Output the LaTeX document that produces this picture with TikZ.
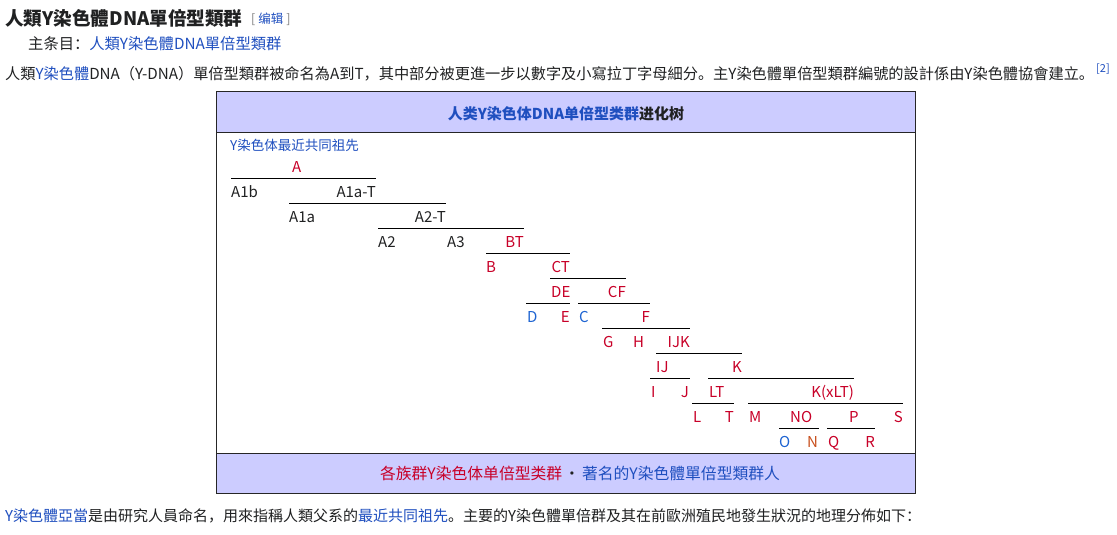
\documentclass[tikz,border=0pt]{standalone}
\usepackage{fontspec}
\setmainfont{Noto Sans CJK SC}
\definecolor{dark}{HTML}{202122}
\definecolor{link}{HTML}{1F4FBF}
\definecolor{tred}{HTML}{C80028}
\definecolor{tblue}{HTML}{1E64D2}
\definecolor{torange}{HTML}{C8501E}
\definecolor{band}{HTML}{CCCCFF}
\begin{document}
\begin{tikzpicture}[x=1pt,y=-1pt,
  txt/.style={inner sep=0pt, anchor=base west, font=\fontsize{15.3}{18}\selectfont, text=dark},
  lab/.style={inner sep=0pt, font=\fontsize{15}{18}\selectfont},
  lw/.style={lab, anchor=base west},
  le/.style={lab, anchor=base east},
  br/.style={draw=black, line width=1pt},
  boxline/.style={draw=black!85, line width=1pt}]
\fill[white] (0,0) rectangle (1117,535);
\useasboundingbox (0,0) rectangle (1117,535);

% page text
\node[txt, font=\fontsize{18.6}{20}\selectfont\bfseries] (title) at (5,26) {人類Y染色體DNA單倍型類群};
\node[txt, font=\fontsize{12.5}{14}\selectfont, text=gray] (edit) at (251,24) {[\hspace{3pt}\textcolor{link}{编辑}\hspace{3pt}]};
\node[txt] (main) at (28,50) {主条目：\textcolor{link}{人類Y染色體DNA單倍型類群}};
\node[txt, font=\fontsize{15.2}{18}\selectfont] (intro) at (5,80) {人類\textcolor{link}{Y染色體}DNA（Y-DNA）單倍型類群被命名為A到T，其中部分被更進一步以數字及小寫拉丁字母細分。主Y染色體單倍型類群編號的設計係由Y染色體協會建立。};
\node[txt, font=\fontsize{11}{13}\selectfont, text=link] (ref) at (1096,73) {[2]};
\node[txt, font=\fontsize{15}{18}\selectfont] (outro) at (5,521) {\textcolor{link}{Y染色體亞當}是由研究人員命名，用來指稱人類父系的\textcolor{link}{最近共同祖先}。主要的Y染色體單倍群及其在前歐洲殖民地發生狀況的地理分佈如下：};

% table frame
\fill[band] (216,92) rectangle (915,132);
\fill[band] (216,453) rectangle (915,493);
\draw[boxline] (216,92) rectangle (915,493);
\draw[boxline] (216,132) -- (915,132);
\draw[boxline] (216,453) -- (915,453);
\node[txt, anchor=base, font=\fontsize{15}{18}\selectfont\bfseries, text=link] (head) at (566,120) {人类Y染色体DNA单倍型类群\textcolor{dark}{进化树}};
\node[txt, anchor=base, font=\fontsize{15.8}{18}\selectfont, text=tred] (foot) at (580,479) {各族群Y染色体单倍型类群\hspace{2pt}\textcolor{dark}{·}\hspace{2pt}\textcolor{link}{著名的Y染色體單倍型類群人}};
\node[txt, font=\fontsize{13.5}{16}\selectfont, text=link] (mrca) at (230,150) {Y染色体最近共同祖先};

% branch lines
\draw[br] (231,178) -- (376,178);
\draw[br] (289,203) -- (446,203);
\draw[br] (378,228) -- (524,228);
\draw[br] (486,253) -- (570,253);
\draw[br] (550,278) -- (626,278);
\draw[br] (526,303) -- (570,303);
\draw[br] (578,303) -- (650,303);
\draw[br] (602,328) -- (690,328);
\draw[br] (656,353) -- (742,353);
\draw[br] (650,378) -- (690,378);
\draw[br] (708,378) -- (854,378);
\draw[br] (692,403) -- (734,403);
\draw[br] (748,403) -- (903,403);
\draw[br] (779,428) -- (819,428);
\draw[br] (827,428) -- (875,428);

% labels
\node[lw, text=tred] (nA) at (292,172) {A};
\node[lw, text=dark] (nA1b) at (231,197) {A1b};
\node[le, text=dark] (nA1aT) at (376,197) {A1a-T};
\node[lw, text=dark] (nA1a) at (289,222) {A1a};
\node[le, text=dark] (nA2T) at (446,222) {A2-T};
\node[lw, text=dark] (nA2) at (378,247) {A2};
\node[lw, text=dark] (nA3) at (447,247) {A3};
\node[le, text=tred] (nBT) at (524,247) {BT};
\node[lw, text=tred] (nB) at (486,272) {B};
\node[le, text=tred] (nCT) at (570,272) {CT};
\node[lw, text=tred] (nDE) at (551,297) {DE};
\node[le, text=tred] (nCF) at (626,297) {CF};
\node[lw, text=tblue] (nD) at (527,322) {D};
\node[le, text=tred] (nE) at (570,322) {E};
\node[lw, text=tblue] (nC) at (579,322) {C};
\node[le, text=tred] (nF) at (650,322) {F};
\node[lw, text=tred] (nG) at (603,347) {G};
\node[lw, text=tred] (nH) at (633,347) {H};
\node[le, text=tred] (nIJK) at (690,347) {IJK};
\node[lw, text=tred] (nIJ) at (656,372) {IJ};
\node[le, text=tred] (nK) at (742,372) {K};
\node[lw, text=tred] (nI) at (651,397) {I};
\node[le, text=tred] (nJ) at (689,397) {J};
\node[lw, text=tred] (nLT) at (709,397) {LT};
\node[le, text=tred] (nKxLT) at (854,397) {K(xLT)};
\node[lw, text=tred] (nL) at (693,422) {L};
\node[le, text=tred] (nT) at (734,422) {T};
\node[lw, text=tred] (nM) at (749,422) {M};
\node[lw, text=tred] (nNO) at (790,422) {NO};
\node[lw, text=tred] (nP) at (849,422) {P};
\node[le, text=tred] (nS) at (903,422) {S};
\node[lw, text=tblue] (nO) at (779,447) {O};
\node[lw, text=torange] (nN) at (807,447) {N};
\node[lw, text=tred] (nQ) at (828,447) {Q};
\node[le, text=tred] (nR) at (875,447) {R};
\end{tikzpicture}
\end{document}
